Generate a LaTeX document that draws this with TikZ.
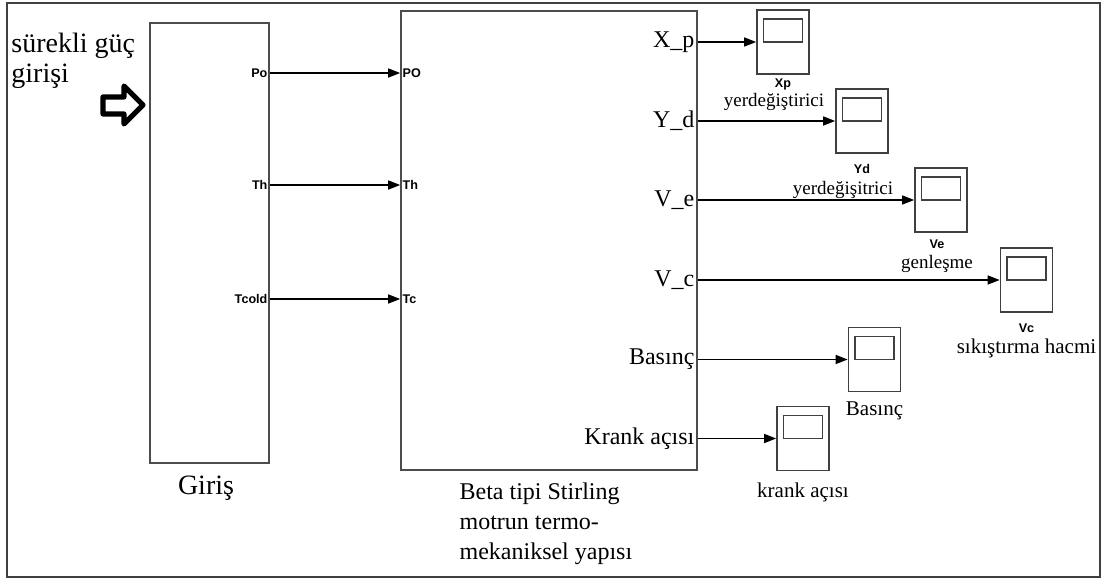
\documentclass[tikz,border=0pt]{standalone}
\usepackage{fontspec}
\setmainfont{Liberation Serif}
\newfontfamily\portfont{Liberation Sans}
\usetikzlibrary{arrows.meta, positioning}

\begin{document}
\begin{tikzpicture}[x=0.5pt, y=-0.5pt,
    block/.style={draw=black!70, line width=0.8pt, inner sep=0pt},
    scopebox/.style={draw=black!75, line width=0.8pt, inner sep=0pt, minimum width=26pt, minimum height=32pt},
    screen/.style={draw=black!75, line width=0.8pt, inner sep=0pt, minimum width=19.5pt, minimum height=11.5pt},
    port/.style={font=\portfont\bfseries\fontsize{6.3}{7}\selectfont, inner sep=1pt},
    outlbl/.style={font=\fontsize{12}{14}\selectfont, anchor=east, inner sep=1.5pt},
    captext/.style={font=\fontsize{9.5}{11}\selectfont, inner sep=0pt},
    sig/.style={-{Triangle[length=6pt,width=4.5pt]}, line width=0.7pt}]

      \useasboundingbox (0,0) rectangle (1105,582);
      % 1. dis cerceve
      \draw[black!75, line width=1.2pt] (7,3) rectangle (1100,577);

      % 2. Giris ve motor bloklari
      \node[block, minimum width=59.5pt, minimum height=220pt] (giris) at (209.5,243) {};
      \node[block, minimum width=148pt, minimum height=229.5pt] (motor) at (549,240.5) {};

      % 3. surekli guc girisi
      \node[font=\fontsize{14}{15}\selectfont, align=left, anchor=north west, inner sep=0pt]
        (guc) at (11,33) {sürekli güç\\girişi};
      \draw[line width=2.6pt, line join=round]
        (103,97) -- (124,97) -- (124,86) -- (143,105) -- (124,124) -- (124,114) -- (103,114) -- cycle;

      % 4. Giris -> motor baglantilari
      \foreach \s/\a/\b/\y in {po/Po/PO/73, th/Th/Th/185, tc/Tcold/Tc/299} {
        \node[port, anchor=east] (\s-out) at (giris.east |- 0,\y) {\a};
        \node[port, anchor=west] (\s-in) at (motor.west |- 0,\y) {\b};
        \draw[sig] (\s-out.east) -- (\s-in.west);
      }

      % 5. scope bloklari
      \node[scopebox] (xp) at (783,42) {};
      \node[scopebox] (yd) at (862,121) {};
      \node[scopebox] (ve) at (941,200) {};
      \node[scopebox] (vc) at (1026.5,280) {};
      \node[scopebox] (bas) at (874.5,359.5) {};
      \node[scopebox] (kra) at (803,438.5) {};

      \foreach \s/\t in {xp/X\_p, yd/Y\_d, ve/V\_e, vc/V\_c, bas/Basınç, kra/Krank açısı} {
        \node[screen, below=4.5pt of \s.north] (\s-screen) {};
        \node[outlbl] (\s-lbl) at (motor.east |- \s.west) {\t};
        \draw[sig] (\s-lbl.east) -- (\s.west);
      }

      % 6. scope etiketleri
      \node[port, inner sep=0pt, below=2pt of xp] (xp-name) {Xp};
      \node[captext, below=0.8pt of xp-name, xshift=-4.5pt] (xp-cap) {yerdeğiştirici};
      \node[port, inner sep=0pt, below=5pt of yd] (yd-name) {Yd};
      \node[captext, below=3.5pt of yd-name, xshift=-9.5pt] (yd-cap) {yerdeğişitrici};
      \node[port, inner sep=0pt, below=3.5pt of ve, xshift=-2pt] (ve-name) {Ve};
      \node[captext, below=3pt of ve-name] (ve-cap) {genleşme};
      \node[port, inner sep=0pt, below=5.5pt of vc] (vc-name) {Vc};
      \node[captext, font=\fontsize{10.5}{12}\selectfont, below=2.5pt of vc-name] (vc-cap) {sıkıştırma hacmi};
      \node[captext, font=\fontsize{10.5}{12}\selectfont, below=4.5pt of bas] (bas-cap) {Basınç};
      \node[captext, font=\fontsize{10.5}{12}\selectfont, below=5.5pt of kra] (kra-cap) {krank açısı};

      % 7. blok adlari
      \node[captext, font=\fontsize{14}{15}\selectfont, below=6pt of giris, xshift=-1.75pt] (giris-cap) {Giriş};
      \node[captext, font=\fontsize{12}{15}\selectfont, align=left, below=6pt of motor.south west,
        anchor=north west, xshift=29.5pt] (motor-cap) {Beta tipi Stirling\\motrun termo-\\mekaniksel yapısı};
    \end{tikzpicture}
\end{document}
